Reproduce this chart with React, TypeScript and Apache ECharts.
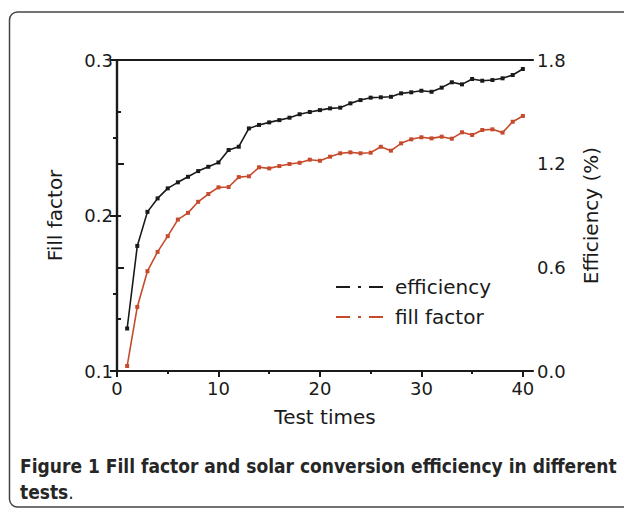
import React, { useEffect, useRef } from "react";
import * as echarts from "echarts";

const testTimes = Array.from({ length: 40 }, (_, i) => i + 1);
const efficiency = [
  0.246, 0.724, 0.921, 0.999, 1.057, 1.092, 1.124, 1.157, 1.182, 1.207,
  1.279, 1.298, 1.404, 1.424, 1.439, 1.452, 1.466, 1.486, 1.499, 1.51,
  1.52, 1.524, 1.549, 1.568, 1.582, 1.584, 1.587, 1.607, 1.613, 1.622,
  1.616, 1.64, 1.671, 1.659, 1.69, 1.68, 1.684, 1.694, 1.713, 1.748,
];
const fillFactor = [
  0.1032, 0.1412, 0.1642, 0.1766, 0.1867, 0.1974, 0.2017, 0.2088, 0.2138, 0.2181,
  0.2183, 0.2247, 0.2252, 0.231, 0.2303, 0.2318, 0.2331, 0.2339, 0.2359, 0.2352,
  0.2378, 0.24, 0.2406, 0.24, 0.2404, 0.2442, 0.2417, 0.2464, 0.249, 0.2503,
  0.2496, 0.2507, 0.2494, 0.2535, 0.2518, 0.255, 0.2554, 0.2533, 0.2603, 0.264,
];
const xMajorTicks = [0, 10, 20, 30, 40];
const xMinorTicks = [5, 15, 25, 35];
const legendNames = ["efficiency", "fill factor"];

const BLACK = "#1a1a1a";
const RED = "#c64b2d";
const FONT = "DejaVu Sans";
const CAPTION_FONT = "DejaVu Sans Condensed";

export default function App() {
  const ref = useRef<HTMLDivElement>(null);
  useEffect(() => {
    const chart = echarts.init(ref.current!, undefined, { renderer: "svg" });
    const axisLine = { show: true, lineStyle: { color: BLACK, width: 2.2 } };
    const legendLine = (y: number, color: string) => ({
      type: "line",
      shape: { x1: 336, y1: y, x2: 388, y2: y },
      style: { stroke: color, lineWidth: 2, lineDash: [14, 8, 3, 8] },
    });
    chart.setOption({
      animation: false,
      backgroundColor: "#ffffff",
      grid: { left: 117, right: 91, top: 60, bottom: 138 },
      xAxis: [
        {
          type: "value",
          position: "bottom",
          min: 0,
          max: 41,
          axisLine,
          splitLine: { show: false },
          axisTick: { customValues: xMajorTicks, length: 6, inside: false, lineStyle: { color: BLACK, width: 2 } },
          axisLabel: { customValues: xMajorTicks, fontSize: 18, color: BLACK, fontFamily: FONT, margin: 8 },
          name: "Test times",
          nameLocation: "middle",
          nameGap: 36,
          nameTextStyle: { fontSize: 20, color: BLACK, fontFamily: FONT },
        },
        {
          type: "value",
          position: "bottom",
          min: 0,
          max: 41,
          axisLine: { show: false },
          splitLine: { show: false },
          axisTick: { customValues: xMinorTicks, length: 3, lineStyle: { color: BLACK, width: 2 } },
          axisLabel: { show: false },
        },
        {
          type: "value",
          position: "top",
          min: 0,
          max: 41,
          axisLine,
          splitLine: { show: false },
          axisTick: { show: false },
          axisLabel: { show: false },
        },
      ],
      yAxis: [
        {
          type: "value",
          position: "left",
          min: 0.1,
          max: 0.3,
          interval: 0.1,
          axisLine,
          splitLine: { show: false },
          axisTick: { show: true, length: 7, lineStyle: { color: BLACK, width: 2 } },
          minorTick: { show: true, splitNumber: 2, length: 4, lineStyle: { color: BLACK, width: 2 } },
          axisLabel: { fontSize: 18, color: BLACK, fontFamily: FONT, margin: 4, formatter: (v: number) => v.toFixed(1) },
          name: "Fill factor",
          nameLocation: "middle",
          nameRotate: 90,
          nameGap: 52,
          nameTextStyle: { fontSize: 20, color: BLACK, fontFamily: FONT },
        },
        {
          type: "value",
          position: "right",
          min: 0,
          max: 1.8,
          interval: 0.6,
          axisLine,
          splitLine: { show: false },
          axisTick: { show: true, length: 7, lineStyle: { color: BLACK, width: 2 } },
          minorTick: { show: true, splitNumber: 2, length: 4, lineStyle: { color: BLACK, width: 2 } },
          axisLabel: { fontSize: 18, color: BLACK, fontFamily: FONT, margin: 4, formatter: (v: number) => v.toFixed(1) },
          name: "Efficiency (%)",
          nameLocation: "middle",
          nameRotate: 90,
          nameGap: 48,
          nameTextStyle: { fontSize: 20, color: BLACK, fontFamily: FONT },
        },
      ],
      series: [
        {
          name: legendNames[0],
          type: "line",
          yAxisIndex: 1,
          data: testTimes.map((x, i) => [x, efficiency[i]]),
          symbol: "rect",
          symbolSize: 4,
          showAllSymbol: true,
          lineStyle: { color: BLACK, width: 1.6 },
          itemStyle: { color: BLACK },
        },
        {
          name: legendNames[1],
          type: "line",
          yAxisIndex: 0,
          data: testTimes.map((x, i) => [x, fillFactor[i]]),
          symbol: "rect",
          symbolSize: 4,
          showAllSymbol: true,
          lineStyle: { color: RED, width: 1.6 },
          itemStyle: { color: RED },
        },
      ],
      graphic: [
        {
          type: "rect",
          shape: { x: 9.5, y: 12, width: 640, height: 495, r: 8 },
          style: { fill: "none", stroke: "#444", lineWidth: 1.5 },
          z: -1,
        },
        legendLine(287, BLACK),
        legendLine(317, RED),
        {
          type: "text",
          x: 395,
          y: 287,
          style: { text: legendNames[0], fontSize: 20, fill: BLACK, fontFamily: FONT, verticalAlign: "middle" },
        },
        {
          type: "text",
          x: 395,
          y: 317,
          style: { text: legendNames[1], fontSize: 20, fill: BLACK, fontFamily: FONT, verticalAlign: "middle" },
        },
        {
          type: "text",
          x: 20,
          y: 466,
          style: {
            text: "{b|Figure 1 Fill factor and solar conversion efficiency in different}",
            verticalAlign: "middle",
            rich: { b: { fontSize: 19, fontWeight: "bold", fill: "#262626", fontFamily: CAPTION_FONT } },
          },
        },
        {
          type: "text",
          x: 20,
          y: 492,
          style: {
            text: "{b|tests}{n|.}",
            verticalAlign: "middle",
            rich: {
              b: { fontSize: 19, fontWeight: "bold", fill: "#262626", fontFamily: CAPTION_FONT },
              n: { fontSize: 19, fill: "#262626", fontFamily: CAPTION_FONT },
            },
          },
        },
      ],
    });
    return () => chart.dispose();
  }, []);
  return <div ref={ref} style={{ position: "absolute", left: 0, top: 0, width: 624, height: 509 }} />;
}
